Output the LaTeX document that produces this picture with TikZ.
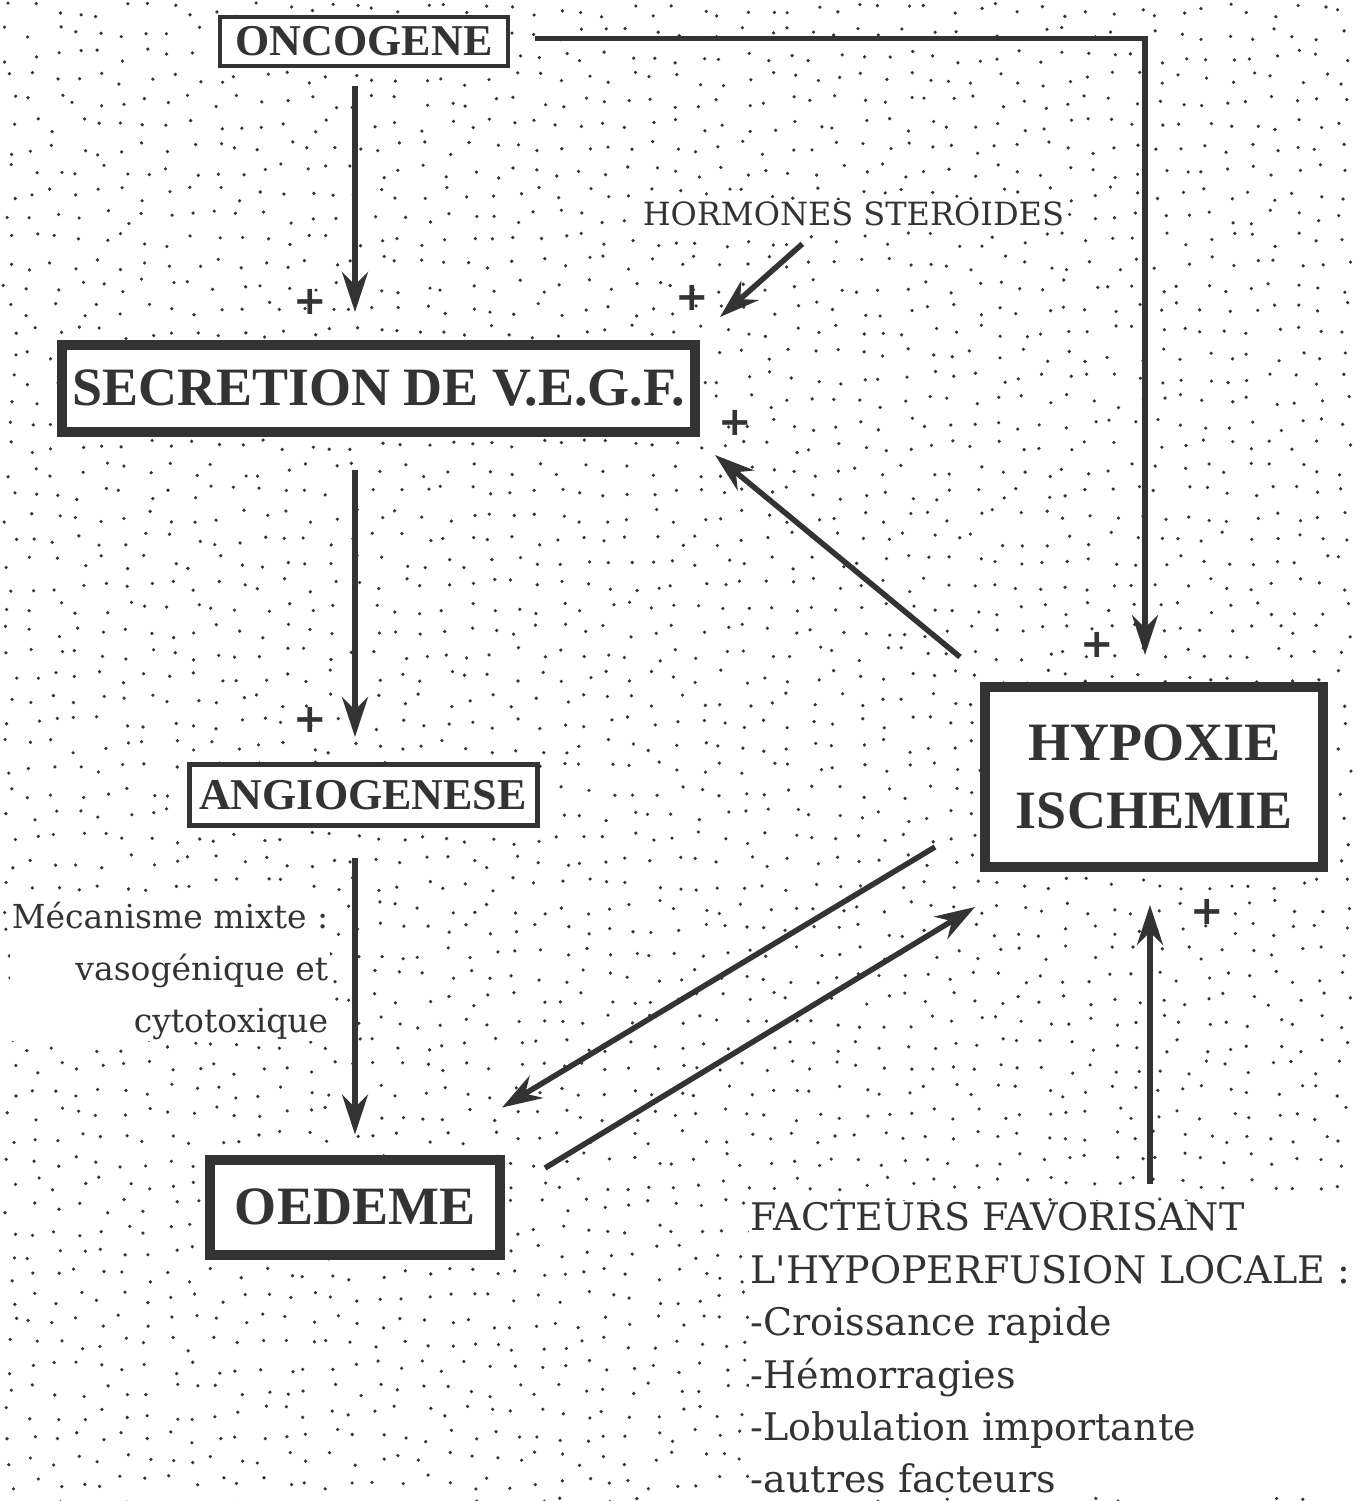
\documentclass[tikz,border=0pt]{standalone}
\usepackage{fontspec}
\setmainfont{Liberation Serif}
\newfontfamily\slabfont{DejaVu Serif}
\newfontfamily\plusfont{DejaVu Sans}
\usetikzlibrary{arrows.meta,positioning}
\definecolor{ink}{HTML}{333333}

\begin{document}
\begin{tikzpicture}[x=1pt,y=-1pt,->,>={Stealth[length=40pt,width=26pt]},line width=5.5pt,color=ink,
  main node/.style={draw=ink,fill=white,line width=10pt,font=\bfseries\fontsize{54}{68}\selectfont,align=center,inner sep=0pt},
  small node/.style={main node,line width=4pt,font=\bfseries\fontsize{44}{50}\selectfont},
  label node/.style={fill=white,inner sep=2pt,font=\slabfont},
  plus node/.style={font=\plusfont\bfseries\fontsize{40}{40}\selectfont,inner sep=0pt}]

  \useasboundingbox (0,0) rectangle (1360,1501);
  \fill[white] (0,0) rectangle (1360,1501);

  % dotted background
  \pgfmathsetseed{17}
  \foreach \i in {0,...,58}
    \foreach \j in {0,...,65}
      \fill[ink] ({\i*23+10+7*rand},{\j*23+10+7*rand}) circle (1.8pt);

  \node[small node,minimum width=288,minimum height=49] (oncogene) at (364,41.5) {ONCOGENE};
  \node[main node,minimum width=633,minimum height=87] (secretion) at (378.5,388.5) {SECRETION DE V.E.G.F.};
  \node[small node,line width=5pt,minimum width=348,minimum height=61] (angio) at (363,795) {ANGIOGENESE};
  \node[main node,minimum width=290,minimum height=95] (oedeme) at (355,1207) {OEDEME};
  \node[main node,minimum width=338,minimum height=180] (hypoxie) at (1154,777) {HYPOXIE\\ISCHEMIE};

  \node[label node,anchor=west,font=\slabfont\fontsize{32}{40}\selectfont] (hormones) at (638,214) {HORMONES STEROIDES};
  \node[label node,anchor=north east,align=right,font=\slabfont\fontsize{33}{52}\selectfont] (mixte) at (333,897) {Mécanisme mixte :\\vasogénique et\\cytotoxique};
  \node[label node,anchor=north west,align=left,font=\slabfont\fontsize{38}{52.4}\selectfont] (facteurs) at (746,1198) {FACTEURS FAVORISANT\\L'HYPOPERFUSION LOCALE :\\-Croissance rapide\\-Hémorragies\\-Lobulation importante\\-autres facteurs};

  \node[plus node] (p1) at (310,302) {+};
  \node[plus node] (p2) at (692,298) {+};
  \node[plus node] (p3) at (735,423) {+};
  \node[plus node] (p4) at (1097,645) {+};
  \node[plus node] (p5) at (310,720) {+};
  \node[plus node] (p6) at (1207,912) {+};

  \coordinate (col) at (355,0);
  \coordinate (up) at ([shift={(-4,0)}]hypoxie.south);

  \draw[shorten <=18pt,shorten >=28pt] (oncogene.south -| col) -- (secretion.north -| col);
  \draw[shorten <=25pt,shorten >=27pt] ([shift={(0,-3)}]oncogene.east) -| ([shift={(-9,0)}]hypoxie.north);
  \draw ([shift={(-51,13)}]hormones.south) -- ([shift={(20,-23)}]secretion.north east);
  \draw ([shift={(-20,-25)}]hypoxie.north west) -- ([shift={(15,18)}]secretion.south east);
  \draw[shorten <=33pt,shorten >=25pt] (secretion.south -| col) -- (angio.north -| col);
  \draw[shorten <=30pt,shorten >=20pt] (angio.south -| col) -- (oedeme.north -| col);
  \draw ([shift={(-45,70)}]hypoxie.west) -- ([shift={(-3,-47)}]oedeme.north east);
  \draw ([shift={(40,-39)}]oedeme.east) -- ([shift={(-5,35)}]hypoxie.south west);
  \draw[shorten >=33pt] ([shift={(0,-14)}]facteurs.north -| up) -- (up);

\end{tikzpicture}
\end{document}
